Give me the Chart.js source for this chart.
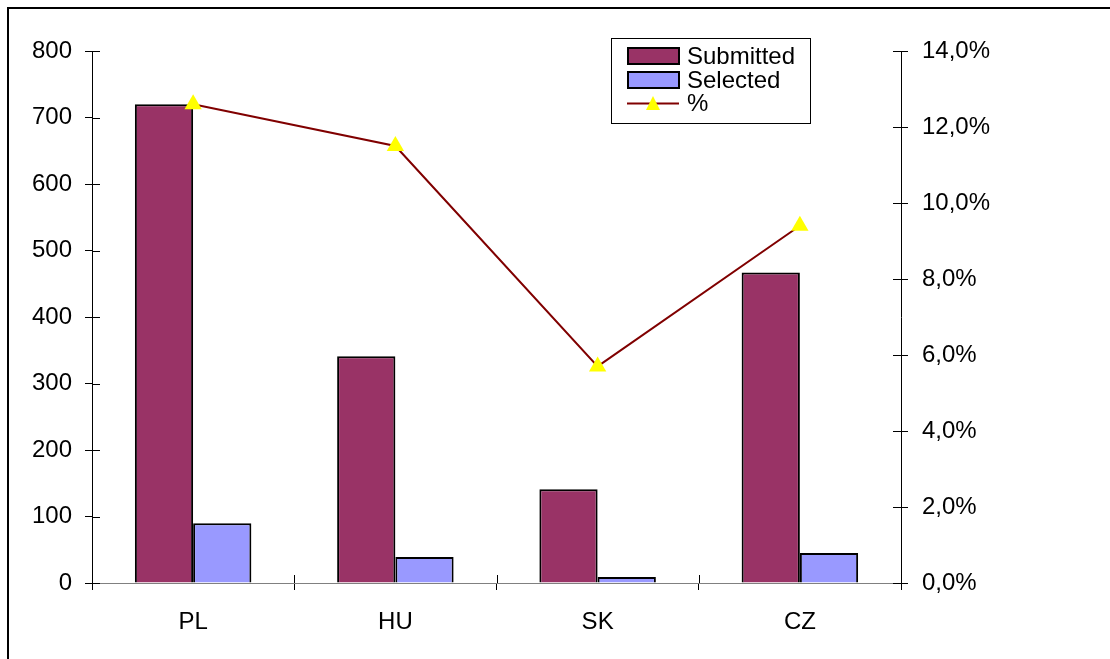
<!DOCTYPE html>
<html>
<head>
<meta charset="utf-8">
<script src="https://cdn.jsdelivr.net/npm/chart.js@4.4.1/dist/chart.umd.min.js"></script>
<style>
  html, body { margin: 0; padding: 0; background: #fff; }
  #wrap { width: 1110px; height: 659px; position: relative; }
</style>
</head>
<body>
<div id="wrap"><canvas id="chart" width="1110" height="659"></canvas></div>
<script>
// Countries and their project counts
const categories = ['PL', 'HU', 'SK', 'CZ'];
const submitted = [720, 341, 141, 467];
const selected = [90, 39, 9, 45];
const percentSelected = [12.6, 11.5, 5.7, 9.4];

// Axis ranges
const countMax = 800, countStep = 100;
const pctMax = 14, pctStep = 2;

const FONT = '"Liberation Sans", Arial, sans-serif';
const FONT_SIZE = 24;

// Inner halves of the tick marks (they cross the axis lines) plus the outer frame
const crossTicks = {
  id: 'crossTicks',
  afterDraw(chart) {
    const ctx = chart.ctx;
    const a = chart.chartArea;
    const inner = 8;
    ctx.save();
    ctx.strokeStyle = '#000';
    ctx.lineWidth = 1;
    ctx.beginPath();
    chart.scales.y.ticks.forEach((t) => {
      const yy = Math.round(chart.scales.y.getPixelForValue(t.value)) + 0.5;
      ctx.moveTo(a.left, yy); ctx.lineTo(a.left + inner, yy);
    });
    chart.scales.y1.ticks.forEach((t) => {
      const yy = Math.round(chart.scales.y1.getPixelForValue(t.value)) + 0.5;
      ctx.moveTo(a.right - inner, yy); ctx.lineTo(a.right, yy);
    });
    const n = categories.length;
    for (let i = 0; i <= n; i++) {
      const xx = Math.round(a.left + i * (a.right - a.left) / n) + 0.5;
      ctx.moveTo(xx, a.bottom - inner); ctx.lineTo(xx, a.bottom);
    }
    ctx.stroke();
    // frame
    ctx.fillStyle = '#000';
    ctx.fillRect(7, 7, chart.width - 7, 2);
    ctx.fillRect(7, 7, 2, chart.height - 7);
    ctx.restore();
  }
};

// Boxed legend in the upper part of the plot
const boxLegend = {
  id: 'boxLegend',
  afterDraw(chart) {
    const ctx = chart.ctx;
    const ds = chart.data.datasets;
    const bx = 611, by = 38, bw = 199, bh = 85;
    ctx.save();
    ctx.fillStyle = '#fff';
    ctx.fillRect(bx, by, bw, bh);
    ctx.strokeStyle = '#000';
    ctx.lineWidth = 1;
    ctx.strokeRect(bx + 0.5, by + 0.5, bw, bh);
    ctx.font = FONT_SIZE + 'px ' + FONT;
    ctx.textBaseline = 'middle';
    ctx.textAlign = 'left';
    const rows = [56, 80, 103];
    ds.forEach((d, i) => {
      const cy = rows[i];
      if (d.type === 'line') {
        ctx.strokeStyle = d.borderColor;
        ctx.lineWidth = 2;
        ctx.beginPath();
        ctx.moveTo(627, cy + 0.5); ctx.lineTo(679, cy + 0.5);
        ctx.stroke();
        ctx.fillStyle = d.pointBackgroundColor;
        ctx.beginPath();
        ctx.moveTo(653, cy - 7); ctx.lineTo(660, cy + 7); ctx.lineTo(646, cy + 7);
        ctx.closePath();
        ctx.fill();
      } else {
        ctx.fillStyle = d.backgroundColor;
        ctx.fillRect(628, cy - 8, 51, 16);
        ctx.strokeStyle = '#000';
        ctx.lineWidth = 2;
        ctx.strokeRect(628, cy - 8, 51, 16);
      }
      ctx.fillStyle = '#000';
      ctx.fillText(d.label, 687, cy + 1);
    });
    ctx.restore();
  }
};

new Chart(document.getElementById('chart'), {
  data: {
    labels: categories,
    datasets: [
      {
        type: 'bar', label: 'Submitted', data: submitted, yAxisID: 'y',
        backgroundColor: '#993366', borderColor: '#000', borderWidth: 2,
        barPercentage: 1, categoryPercentage: 0.576, order: 2
      },
      {
        type: 'bar', label: 'Selected', data: selected, yAxisID: 'y',
        backgroundColor: '#9999FF', borderColor: '#000', borderWidth: 2,
        barPercentage: 1, categoryPercentage: 0.576, order: 2
      },
      {
        type: 'line', label: '%', data: percentSelected, yAxisID: 'y1',
        borderColor: '#800000', borderWidth: 2, tension: 0,
        pointStyle: 'triangle', pointRadius: 10,
        pointBackgroundColor: '#FFFF00', pointBorderColor: '#FFFF00', pointBorderWidth: 0,
        order: 0
      }
    ]
  },
  options: {
    responsive: false,
    animation: false,
    layout: { padding: { top: 51, left: 0, right: 0, bottom: 0 } },
    plugins: { legend: { display: false }, tooltip: { enabled: false } },
    scales: {
      x: {
        offset: true,
        grid: { display: true, drawOnChartArea: false, offset: true, tickLength: 7, color: '#000' },
        border: { display: true, color: '#808080', width: 1 },
        ticks: { color: '#000', padding: 18, font: { family: FONT, size: FONT_SIZE } },
        afterFit(s) { s.height = 76; }
      },
      y: {
        position: 'left', min: 0, max: countMax,
        grid: { display: true, drawOnChartArea: false, tickLength: 7, color: '#000' },
        border: { display: true, color: '#000', width: 1 },
        ticks: { stepSize: countStep, color: '#000', padding: 13, font: { family: FONT, size: FONT_SIZE } },
        afterFit(s) { s.width = 92; }
      },
      y1: {
        position: 'right', min: 0, max: pctMax,
        grid: { display: true, drawOnChartArea: false, tickLength: 7, color: '#000' },
        border: { display: true, color: '#000', width: 1 },
        ticks: {
          stepSize: pctStep, color: '#000', padding: 14, font: { family: FONT, size: FONT_SIZE },
          callback: (v) => v.toFixed(1).replace('.', ',') + '%'
        },
        afterFit(s) { s.width = 209; }
      }
    }
  },
  plugins: [crossTicks, boxLegend]
});
</script>
</body>
</html>
